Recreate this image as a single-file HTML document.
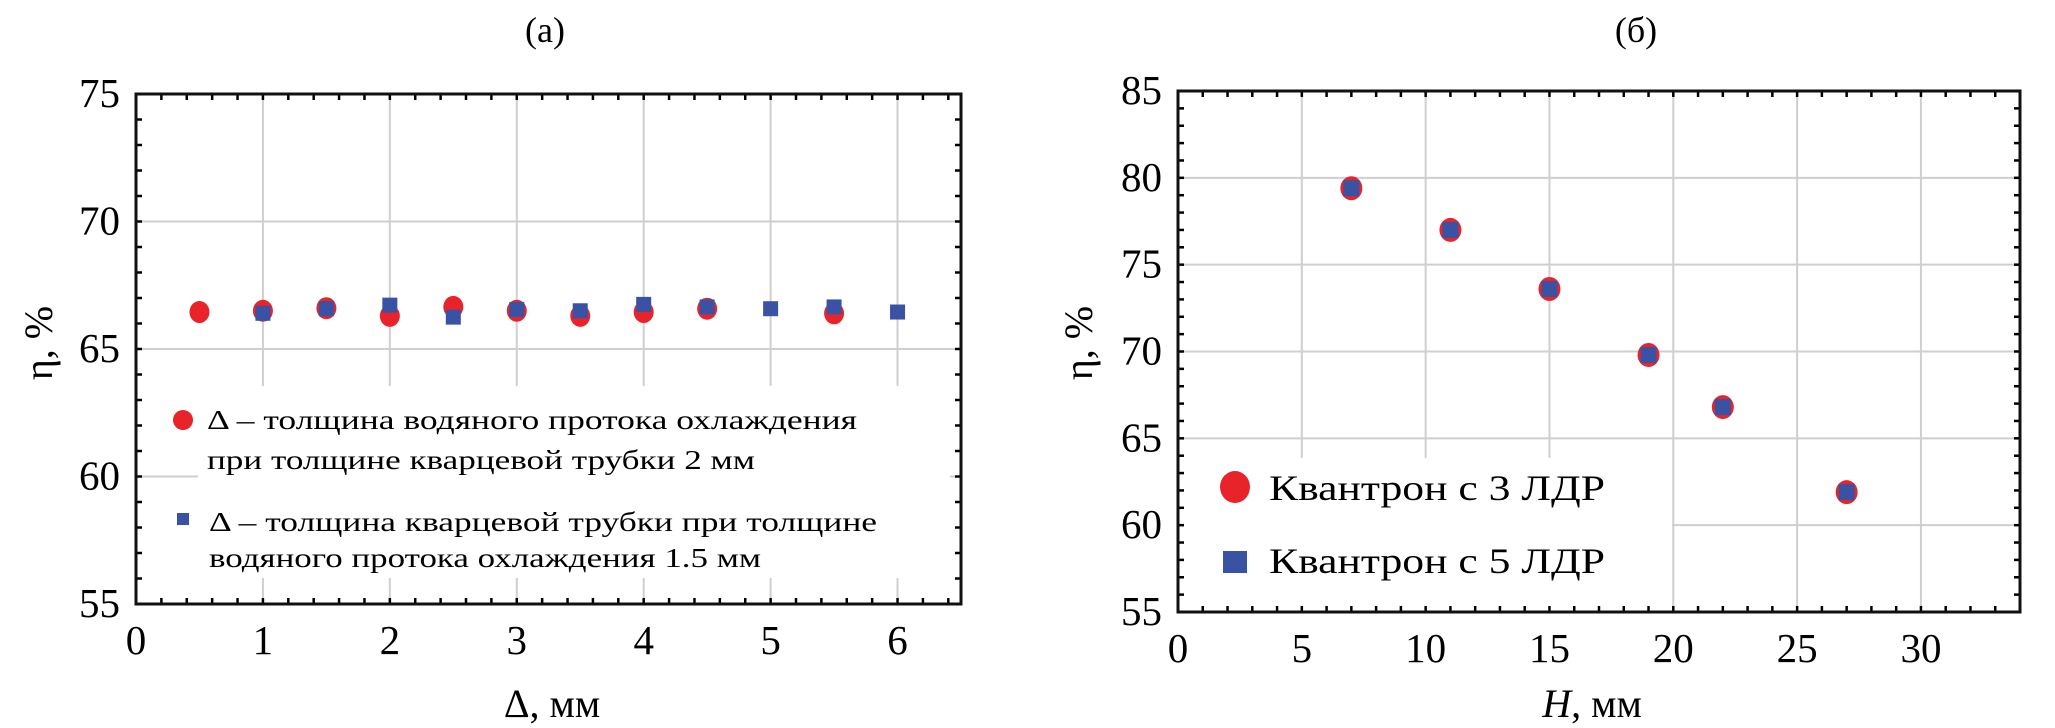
<!DOCTYPE html>
<html><head><meta charset="utf-8"><style>
html,body{margin:0;padding:0;background:#fff;}
svg{display:block;font-family:"Liberation Serif",serif;}
</style></head><body>
<svg id="fig" width="2055" height="728" viewBox="0 0 2055 728" xmlns="http://www.w3.org/2000/svg">
<text x="545" y="42" font-size="36" text-anchor="middle">(a)</text>
<text x="1636" y="42" font-size="36" text-anchor="middle">(б)</text>
<g id="pa"></g>
<g id="pb"></g>
</svg>
<script>
// Panel A data
const aRedX = [0.5,1,1.5,2,2.5,3,3.5,4,4.5,5.5];
const aRedY = [66.45,66.5,66.6,66.3,66.65,66.5,66.3,66.45,66.58,66.4];
const aBlueX = [1,1.5,2,2.5,3,3.5,4,4.5,5,5.5,6];
const aBlueY = [66.4,66.58,66.72,66.25,66.55,66.5,66.75,66.65,66.58,66.65,66.45];
const aXTicks = [0,1,2,3,4,5,6];
const aYTicks = [55,60,65,70,75];
// Panel B data
const bX = [7,11,15,19,22,27];
const bRedY = [79.4,77.0,73.6,69.8,66.8,61.9];
const bBlueY = [79.4,77.0,73.6,69.8,66.8,61.9];
const bXTicks = [0,5,10,15,20,25,30];
const bYTicks = [55,60,65,70,75,80,85];

const NS="http://www.w3.org/2000/svg";
function mk(parent,tag,attrs,text){const e=document.createElementNS(NS,tag);for(const k in attrs)e.setAttribute(k,attrs[k]);if(text!==undefined)e.textContent=text;parent.appendChild(e);return e;}

function panel(g,o){
  const sx=v=>o.x0+(v-o.xmin)/(o.xmax-o.xmin)*(o.x1-o.x0);
  const sy=v=>o.y1-(v-o.ymin)/(o.ymax-o.ymin)*(o.y1-o.y0);
  o.xt.forEach(v=>{ if(v>o.xmin&&v<o.xmax){const l=mk(g,'line',{x1:sx(v),x2:sx(v),y1:o.y0,y2:o.y1,stroke:'#cfcfcf','stroke-width':2});
    
    }});
  o.yt.forEach(v=>{ if(v>o.ymin&&v<o.ymax){const l=mk(g,'line',{x1:o.x0,x2:o.x1,y1:sy(v),y2:sy(v),stroke:'#cfcfcf','stroke-width':2});
    
    }});
  const lb=mk(g,'rect',o.legendBox);lb.setAttribute('fill','#fff');
  
  
  for(let v=o.xmin;v<=o.xmax+1e-9;v+=o.xminor){const X=sx(v);
    mk(g,'line',{x1:X,x2:X,y1:o.y1,y2:o.y1-6,stroke:'#000','stroke-width':2.5});
    mk(g,'line',{x1:X,x2:X,y1:o.y0,y2:o.y0+6,stroke:'#000','stroke-width':2.5});}
  for(let v=o.ymin;v<=o.ymax+1e-9;v+=o.yminor){const Y=sy(v);
    mk(g,'line',{x1:o.x0,x2:o.x0+6,y1:Y,y2:Y,stroke:'#000','stroke-width':2.5});
    mk(g,'line',{x1:o.x1,x2:o.x1-6,y1:Y,y2:Y,stroke:'#000','stroke-width':2.5});}
  const fr=mk(g,'rect',{x:o.x0,y:o.y0,width:o.x1-o.x0,height:o.y1-o.y0,fill:'none',stroke:'#111','stroke-width':3});
  
  
  o.xt.forEach(v=>{const t=mk(g,'text',{x:sx(v),y:o.y1+50,'font-size':41,'text-anchor':'middle'},String(v));
    
    });
  o.yt.forEach(v=>{const t=mk(g,'text',{x:o.x0-16,y:sy(v)+13,'font-size':41,'text-anchor':'end'},String(v));
    
    });
  o.rx.forEach((x,i)=>{const c=mk(g,'ellipse',{cx:sx(x),cy:sy(o.ry[i]),rx:o.rr,ry:o.rr+1,fill:'#e8242a'});
    
    });
  o.bx.forEach((x,i)=>{const s=o.bs;const r=mk(g,'rect',{x:sx(x)-s/2,y:sy(o.by[i])-s/2,width:s,height:s,fill:'#3a52a4'});
    
    });
}

const ga=document.getElementById('pa');
panel(ga,{x0:136,x1:961,y0:94,y1:604,xmin:0,xmax:6.5,ymin:55,ymax:75,xt:aXTicks,yt:aYTicks,xminor:0.2,yminor:1,
  rx:aRedX,ry:aRedY,bx:aBlueX,by:aBlueY,rr:10,bs:15,legendBox:{x:198,y:386,width:752,height:192}});
const gb=document.getElementById('pb');
panel(gb,{x0:1178,x1:2020,y0:91,y1:612,xmin:0,xmax:34,ymin:55,ymax:85,xt:bXTicks,yt:bYTicks,xminor:1,yminor:1,
  rx:bX,ry:bRedY,bx:bX,by:bBlueY,rr:11,bs:16,legendBox:{x:1184,y:458,width:488,height:150}});
</script>
<script>
const f=document.getElementById('fig');
const L=`
<g font-size="27">
 <ellipse cx="183" cy="420" rx="10" ry="10" fill="#e8242a"/>
 <text x="207" y="429" textLength="650" lengthAdjust="spacingAndGlyphs">Δ – толщина водяного протока охлаждения</text>
 <text x="207" y="469" textLength="548" lengthAdjust="spacingAndGlyphs">при толщине кварцевой трубки 2 мм</text>
 <rect x="177" y="513" width="12" height="12" fill="#3a52a4"/>
 <text x="209" y="531" textLength="668" lengthAdjust="spacingAndGlyphs">Δ – толщина кварцевой трубки при толщине</text>
 <text x="209" y="567" textLength="552" lengthAdjust="spacingAndGlyphs">водяного протока охлаждения 1.5 мм</text>
</g>
<g font-size="36">
 <ellipse cx="1235" cy="487" rx="15" ry="16" fill="#e8242a"/>
 <text x="1269" y="500" textLength="336" lengthAdjust="spacingAndGlyphs">Квантрон с 3 ЛДР</text>
 <rect x="1223" y="551" width="24" height="22" fill="#3a52a4"/>
 <text x="1269" y="573" textLength="336" lengthAdjust="spacingAndGlyphs">Квантрон с 5 ЛДР</text>
</g>
<text x="552" y="717" font-size="40" text-anchor="middle">Δ, мм</text>
<text x="1592" y="717" font-size="40" text-anchor="middle"><tspan font-style="italic">H</tspan>, мм</text>
<text transform="translate(52,343) rotate(-90)" font-size="40" text-anchor="middle">η, %</text>
<text transform="translate(1092,343) rotate(-90)" font-size="40" text-anchor="middle">η, %</text>`;
f.insertAdjacentHTML('beforeend',L);
</script>
</body></html>
